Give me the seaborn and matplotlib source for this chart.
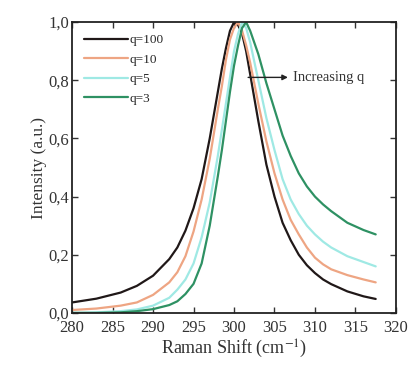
import numpy as np
import pandas as pd
import matplotlib
matplotlib.use("Agg")
import matplotlib.pyplot as plt
import seaborn as sns

# Raman shift grid (cm^-1) and normalised intensities
shift = [280, 283, 286, 288, 290, 292, 293, 294, 295, 296, 297, 298, 298.5, 299, 299.5,
         300, 300.5, 301, 301.5, 302, 303, 304, 305, 306, 307, 308, 309, 310, 311, 312, 314, 316, 317.5]

q100 = [0.036, 0.049, 0.070, 0.093, 0.128, 0.185, 0.225, 0.283, 0.36, 0.46, 0.60, 0.76, 0.84, 0.91, 0.97,
        1.0, 0.99, 0.96, 0.90, 0.82, 0.66, 0.51, 0.40, 0.31, 0.25, 0.20, 0.164, 0.137, 0.115, 0.099, 0.074, 0.057, 0.048]
q10 = [0.010, 0.015, 0.025, 0.036, 0.062, 0.105, 0.14, 0.195, 0.28, 0.39, 0.53, 0.70, 0.78, 0.87, 0.94,
       0.98, 1.0, 0.97, 0.92, 0.86, 0.72, 0.59, 0.48, 0.39, 0.32, 0.27, 0.225, 0.19, 0.167, 0.15, 0.13, 0.115, 0.105]
q5 = [0.0, 0.002, 0.006, 0.012, 0.025, 0.052, 0.08, 0.115, 0.17, 0.26, 0.38, 0.54, 0.63, 0.72, 0.81,
      0.90, 0.96, 1.0, 0.98, 0.93, 0.80, 0.67, 0.56, 0.46, 0.39, 0.34, 0.30, 0.27, 0.245, 0.225, 0.195, 0.175, 0.16]
q3 = [0.0, 0.0, 0.002, 0.006, 0.013, 0.027, 0.04, 0.065, 0.10, 0.17, 0.30, 0.47, 0.56, 0.66, 0.76,
      0.85, 0.92, 0.98, 1.0, 0.97, 0.89, 0.79, 0.70, 0.61, 0.54, 0.48, 0.435, 0.40, 0.373, 0.35, 0.31, 0.285, 0.27]

labels = ["q=100", "q=10", "q=5", "q=3"]
colors = ["#201818", "#eea583", "#9fe9e4", "#2e9163"]

df = pd.concat([
    pd.DataFrame({"shift": shift, "intensity": vals, "q": lab})
    for vals, lab in zip([q100, q10, q5, q3], labels)
])

sns.set_style("ticks")
plt.rcParams["font.family"] = ["Liberation Serif", "DejaVu Serif"]
plt.rcParams["mathtext.fontset"] = "stix"

fig = plt.figure(figsize=(4.12, 3.69), dpi=100)
ax = fig.add_axes([0.175, 0.152, 0.786, 0.788])

sns.lineplot(data=df, x="shift", y="intensity", hue="q", hue_order=labels,
             palette=colors, linewidth=1.6, ax=ax)

ax.set_xlim(280, 320)
ax.set_ylim(0, 1.0)
ax.set_xticks(np.arange(280, 321, 5))
ax.set_yticks(np.arange(0, 1.01, 0.2))
ax.set_yticklabels([f"{v:.1f}".replace(".", ",") for v in np.arange(0, 1.01, 0.2)])
ax.tick_params(direction="in", top=True, right=True, length=4, width=1, labelsize=12,
               colors="#333333")
ax.tick_params(axis="x", pad=5)
ax.tick_params(axis="y", pad=2)
for s in ax.spines.values():
    s.set_linewidth(1.3)
    s.set_color("#222222")

ax.set_xlabel("Raman Shift (cm$^{-1}$)", fontsize=13, color="#333333", labelpad=1)
ax.set_ylabel("Intensity (a.u.)", fontsize=12.5, color="#333333", labelpad=1)

ax.annotate("", xy=(307.0, 0.81), xytext=(301.4, 0.81),
            arrowprops=dict(arrowstyle="-|>", color="#222222", lw=1, mutation_scale=8))
ax.text(307.3, 0.81, "Increasing q", fontsize=10.5, va="center", ha="left", color="#333333")

leg = ax.legend(loc="upper left", frameon=False, fontsize=9.5, handlelength=3.3,
                handletextpad=0.15, labelspacing=0.55, borderaxespad=0.5)

fig.savefig("out.png", dpi=100)
